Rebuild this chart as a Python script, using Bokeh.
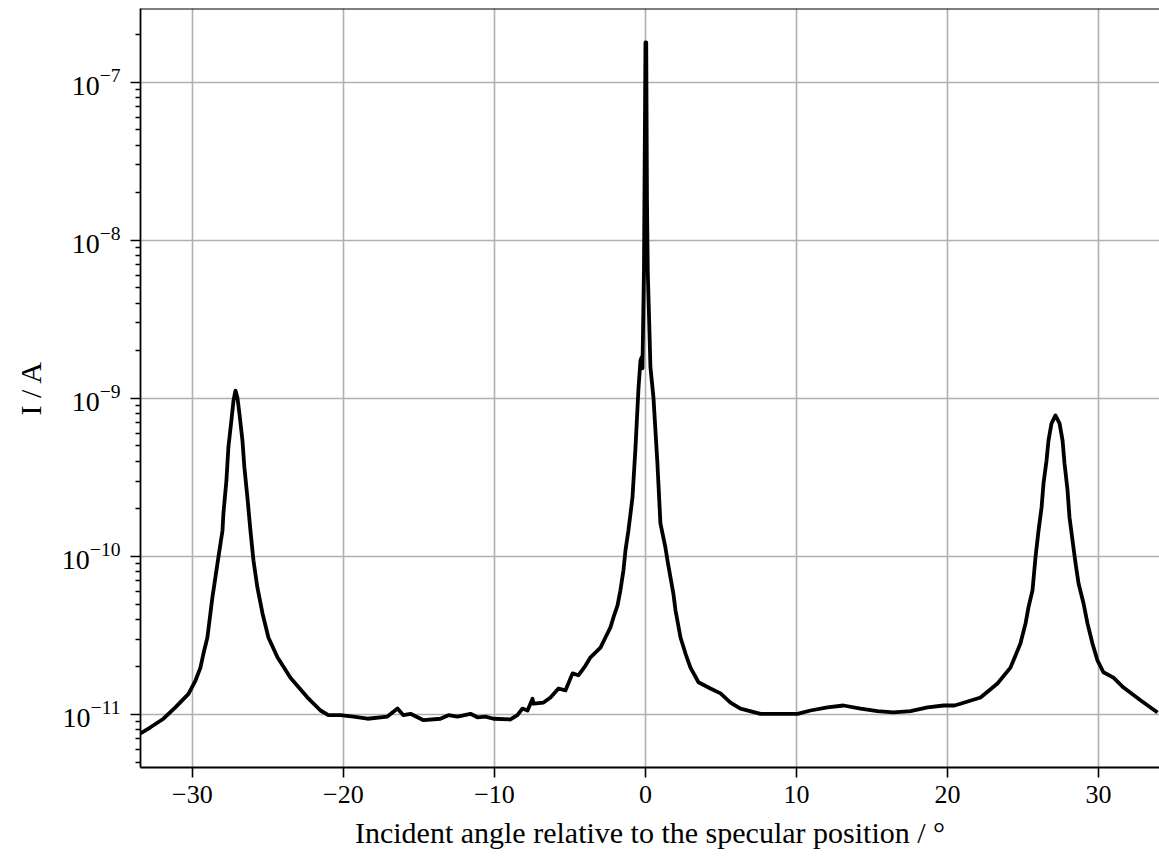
from bokeh.plotting import figure
from bokeh.models import FixedTicker, CustomJSTickFormatter, Range1d, Span, LogTickFormatter
from bokeh.embed import file_html
from bokeh.resources import INLINE

# Incident angle relative to the specular position (degrees)
angle = [-33.44, -32.78, -31.92, -31.13, -30.26, -29.80, -29.47, -29.27, -29.01, -28.68,
         -28.48, -28.28, -28.01, -27.95, -27.75, -27.62, -27.42, -27.28, -27.15, -27.02,
         -26.89, -26.69, -26.56, -26.36, -26.16, -25.96, -25.70, -25.36, -24.97, -24.37,
         -23.51, -22.38, -21.52, -21.00, -20.20, -19.34, -18.41, -17.09, -16.42, -16.03,
         -15.56, -14.70, -13.58, -13.05, -12.45, -11.59, -11.13, -10.60, -10.07, -8.94,
         -8.48, -8.15, -7.81, -7.48, -7.42, -6.75, -6.29, -5.76, -5.30, -4.83,
         -4.44, -3.97, -3.64, -2.98, -2.65, -2.32, -2.12, -1.85, -1.66, -1.46,
         -1.32, -1.13, -0.86, -0.66, -0.46, -0.33, -0.25, -0.20, -0.10, 0.00,
         0.05, 0.10, 0.15, 0.33, 0.53, 0.79, 0.99, 1.32, 1.46, 1.85,
         1.99, 2.32, 2.65, 2.98, 3.51, 4.30, 4.97, 5.63, 6.29, 7.62,
         8.94, 10.07, 10.93, 12.05, 13.11, 14.24, 15.36, 16.42, 17.55, 18.68,
         19.74, 20.46, 20.86, 22.19, 23.31, 24.17, 24.83, 25.17, 25.36, 25.63,
         25.83, 26.03, 26.23, 26.36, 26.56, 26.69, 26.89, 27.15, 27.42, 27.62,
         27.75, 27.95, 28.08, 28.28, 28.48, 28.68, 29.01, 29.27, 29.60, 29.93,
         30.33, 30.99, 31.66, 32.78, 33.91]

# Measured current (A)
current = [7.6e-12, 8.3e-12, 9.4e-12, 1.11e-11, 1.35e-11, 1.64e-11, 1.98e-11, 2.43e-11, 3.07e-11, 5.5e-11,
           7.37e-11, 9.9e-11, 1.46e-10, 1.87e-10, 3.03e-10, 4.9e-10, 7.26e-10, 9.7e-10, 1.12e-9, 1.01e-9,
           8.04e-10, 5.42e-10, 3.66e-10, 2.36e-10, 1.46e-10, 9.44e-11, 6.37e-11, 4.36e-11, 3.07e-11, 2.30e-11,
           1.71e-11, 1.28e-11, 1.06e-11, 9.9e-12, 9.9e-12, 9.7e-12, 9.4e-12, 9.7e-12, 1.09e-11, 9.9e-12,
           1.01e-11, 9.2e-12, 9.4e-12, 9.9e-12, 9.7e-12, 1.01e-11, 9.6e-12, 9.7e-12, 9.4e-12, 9.3e-12,
           9.9e-12, 1.09e-11, 1.06e-11, 1.26e-11, 1.17e-11, 1.19e-11, 1.28e-11, 1.46e-11, 1.42e-11, 1.82e-11,
           1.77e-11, 2.04e-11, 2.30e-11, 2.65e-11, 3.07e-11, 3.56e-11, 4.11e-11, 4.9e-11, 6.1e-11, 8.15e-11,
           1.1e-10, 1.46e-10, 2.36e-10, 4.9e-10, 1.17e-9, 1.74e-9, 1.82e-9, 1.55e-9, 6.5e-9, 1.79e-7,
           1.79e-7, 1.8e-8, 6.5e-9, 1.57e-9, 1.01e-9, 3.9e-10, 1.62e-10, 1.14e-10, 9.4e-11, 5.8e-11,
           4.55e-11, 3.07e-11, 2.43e-11, 1.98e-11, 1.60e-11, 1.46e-11, 1.36e-11, 1.19e-11, 1.09e-11, 1.01e-11,
           1.01e-11, 1.01e-11, 1.06e-11, 1.11e-11, 1.14e-11, 1.09e-11, 1.05e-11, 1.03e-11, 1.05e-11, 1.11e-11,
           1.14e-11, 1.14e-11, 1.17e-11, 1.28e-11, 1.57e-11, 1.98e-11, 2.81e-11, 3.77e-11, 4.75e-11, 6.1e-11,
           9.9e-11, 1.46e-10, 2.04e-10, 2.9e-10, 4.05e-10, 5.42e-10, 6.95e-10, 7.8e-10, 6.95e-10, 5.42e-10,
           3.88e-10, 2.62e-10, 1.77e-10, 1.26e-10, 9.04e-11, 6.75e-11, 5.04e-11, 3.77e-11, 2.81e-11, 2.2e-11,
           1.85e-11, 1.71e-11, 1.48e-11, 1.23e-11, 1.03e-11]

x_ticks = [-30, -20, -10, 0, 10, 20, 30]
y_ticks = [1e-11, 1e-10, 1e-9, 1e-8, 1e-7]
y_minor = [m * 10.0 ** e for e in range(-12, -6) for m in range(2, 10)]

x_label = "Incident angle relative to the specular position / \u00b0"
y_label = "I / A"

FONT = "Liberation Serif"
x_start, x_end = -33.44, 34.04
y_start, y_end = 4.62e-12, 2.93e-7

p = figure(width=1159, height=857, y_axis_type="log",
           x_range=Range1d(x_start, x_end), y_range=Range1d(y_start, y_end),
           output_backend="svg", toolbar_location=None,
           min_border_left=140, min_border_right=0, min_border_top=8, min_border_bottom=90)
p.outline_line_color = None
p.background_fill_color = "white"
p.border_fill_color = "white"

p.line(angle, current, line_color="black", line_width=3.8, line_join="round")

p.add_layout(Span(location=y_end, dimension="width", line_color="black", line_width=1.8))

xa = p.xaxis[0]
ya = p.yaxis[0]
xa.ticker = FixedTicker(ticks=x_ticks)
ya.ticker = FixedTicker(ticks=y_ticks, minor_ticks=y_minor)
xa.formatter = CustomJSTickFormatter(code="return tick < 0 ? '\\u2212' + Math.abs(tick) : String(tick);")
ya.formatter = LogTickFormatter()

for ax in (xa, ya):
    ax.axis_line_color = "black"
    ax.axis_line_width = 1.8
    ax.major_tick_line_color = "black"
    ax.major_tick_line_width = 1.6
    ax.major_tick_in = 0
    ax.major_tick_out = 10
    ax.minor_tick_in = 0
    ax.minor_tick_out = 5
    ax.minor_tick_line_width = 1.3
    ax.minor_tick_line_color = "black"
    ax.major_label_text_font = FONT
    ax.major_label_text_font_size = "26px"
    ax.major_label_text_color = "black"
    ax.axis_label_text_font = FONT
    ax.axis_label_text_font_size = "30px"
    ax.axis_label_text_font_style = "normal"
    ax.axis_label_text_color = "black"

ya.major_label_text_font_size = "28px"
xa.minor_tick_line_color = None
xa.axis_label = x_label
ya.axis_label = y_label
xa.major_label_standoff = 8
xa.axis_label_standoff = 10
ya.major_label_standoff = 10
ya.axis_label_standoff = 12

p.xgrid.grid_line_color = "#b0b0b0"
p.ygrid.grid_line_color = "#b0b0b0"
p.xgrid.grid_line_width = 1.6
p.ygrid.grid_line_width = 1.6

open("out.html", "w").write(file_html(p, INLINE))
